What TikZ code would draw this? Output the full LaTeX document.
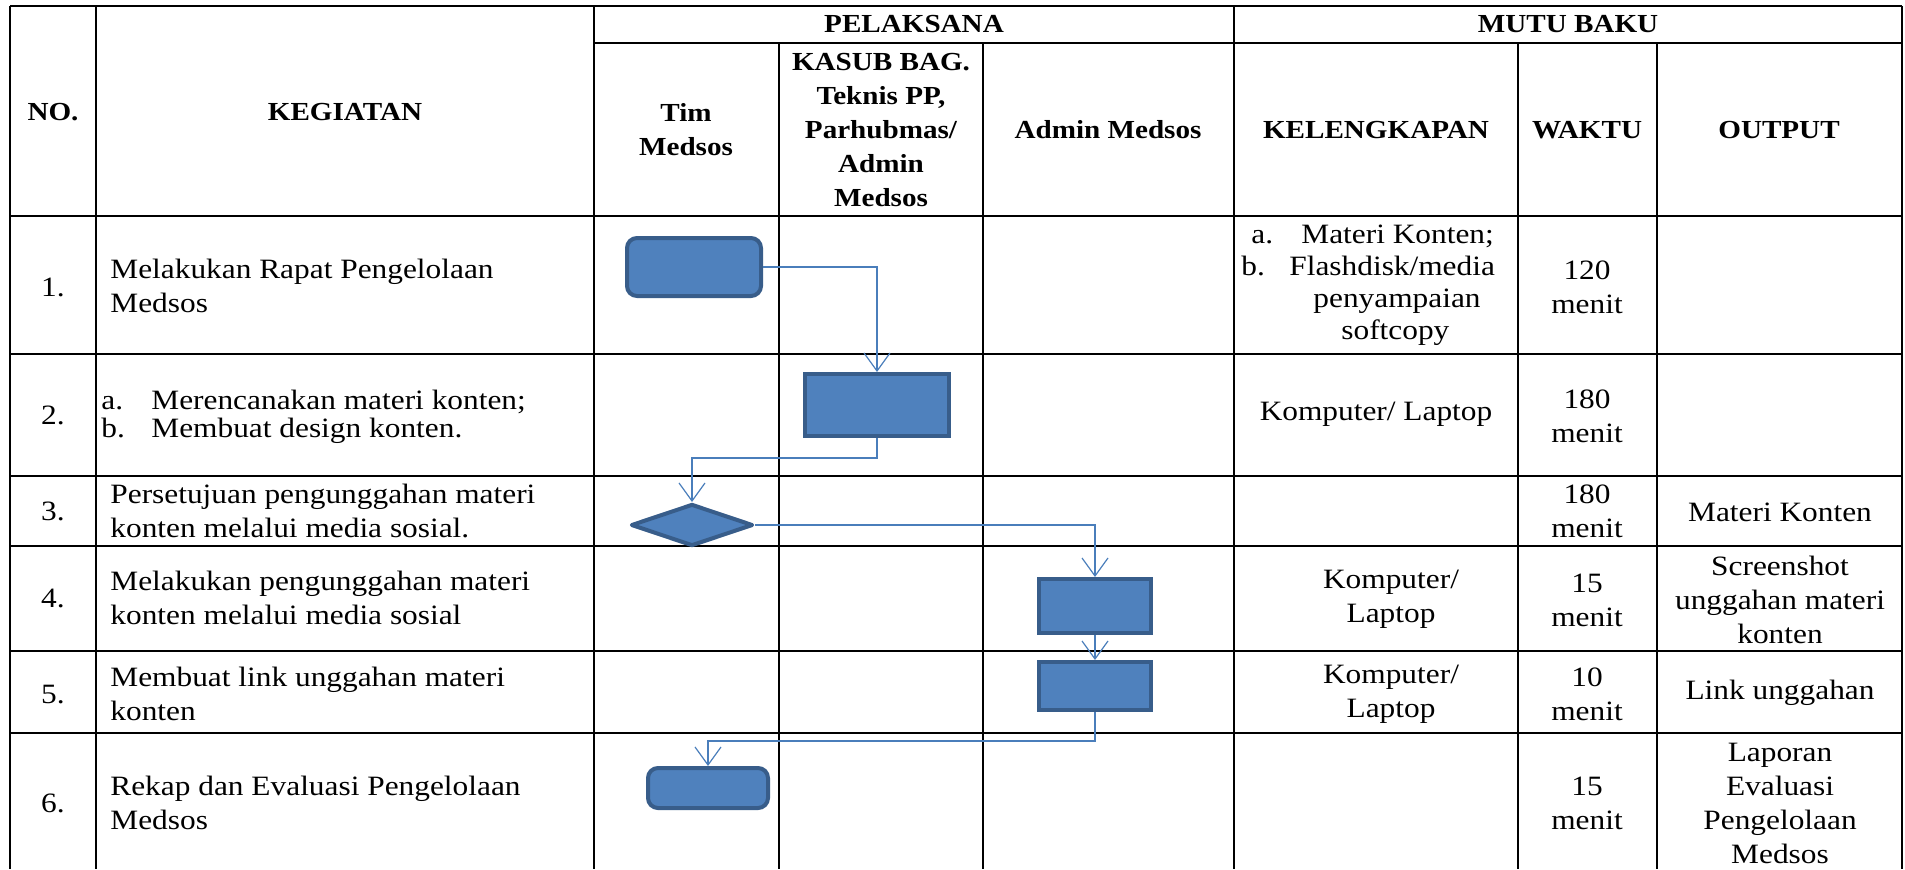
\documentclass[tikz,border=0pt]{standalone}
\usepackage{fontspec}
\setmainfont{Liberation Serif}[FakeStretch=1.12]
\definecolor{boxblue}{RGB}{79, 129, 189}
\definecolor{boxedge}{RGB}{56, 93, 138}
\definecolor{flowblue}{RGB}{74, 126, 187}
\usetikzlibrary{shapes, arrows.meta, positioning, calc}

\begin{document}
\begin{tikzpicture}[x=0.5pt, y=-0.5pt,
  grid/.style={line width=0.85pt, black},
  rowline/.style={line width=1pt, black},
  cell/.style={align=center, inner sep=0pt, font=\fontsize{14}{17}\selectfont},
  hdr/.style={cell, font=\fontsize{13}{17}\selectfont\bfseries},
  txt/.style={cell, anchor=west, align=left},
  actbox/.style={draw=boxedge, fill=boxblue, line width=2pt, inner sep=0pt},
  flow/.style={draw=flowblue, line width=0.6pt, -{Straight Barb[length=9pt, width=13pt]}}
]
  \useasboundingbox (0,0) rectangle (1905,869);

  % Table lines
  \draw[rowline] (10,6) -- (1902,6);
  \draw[rowline] (594,43) -- (1902,43);
  \draw[rowline] (10,216) -- (1902,216);
  \draw[rowline] (10,354) -- (1902,354);
  \draw[rowline] (10,476) -- (1902,476);
  \draw[rowline] (10,546) -- (1902,546);
  \draw[rowline] (10,651) -- (1902,651);
  \draw[rowline] (10,733) -- (1902,733);
  \draw[grid] (10,6) -- (10,869);
  \draw[grid] (96,6) -- (96,869);
  \draw[grid] (594,6) -- (594,869);
  \draw[grid] (1234,6) -- (1234,869);
  \draw[grid] (1902,6) -- (1902,869);
  \draw[grid] (779,43) -- (779,869);
  \draw[grid] (983,43) -- (983,869);
  \draw[grid] (1518,43) -- (1518,869);
  \draw[grid] (1657,43) -- (1657,869);

  % Header
  \node[hdr] (hno) at (53,112) {NO.};
  \node[hdr] (hkeg) at (345,112) {KEGIATAN};
  \node[hdr] (hpel) at (914,24) {PELAKSANA};
  \node[hdr] (hmutu) at (1568,24) {MUTU BAKU};
  \node[hdr] (htim) at (686,130) {Tim\\Medsos};
  \node[hdr] (hkasub) at (881,130) {KASUB BAG.\\Teknis PP,\\Parhubmas/\\Admin\\Medsos};
  \node[hdr] (hadmin) at (1108,130) {Admin Medsos};
  \node[hdr] (hkel) at (1376,130) {KELENGKAPAN};
  \node[hdr] (hwaktu) at (1587,130) {WAKTU};
  \node[hdr] (hout) at (1779,130) {OUTPUT};

  % Numbers
  \node[cell] (no1) at (53,287) {1.};
  \node[cell] (no2) at (53,415) {2.};
  \node[cell] (no3) at (53,511) {3.};
  \node[cell] (no4) at (53,598) {4.};
  \node[cell] (no5) at (53,695) {5.};
  \node[cell] (no6) at (53,803) {6.};

  % Kegiatan
  \node[txt] (keg1) at (110,286) {Melakukan Rapat Pengelolaan\\Medsos};
  \node[txt, font=\fontsize{14}{14}\selectfont] (keg2) at (101,417) {%
    \makebox[25pt][l]{a.}Merencanakan materi konten;\\
    \makebox[25pt][l]{b.}Membuat design konten.};
  \node[txt] (keg3) at (110,511) {Persetujuan pengunggahan materi\\konten melalui media sosial.};
  \node[txt] (keg4) at (110,598) {Melakukan pengunggahan materi\\konten melalui media sosial};
  \node[txt] (keg5) at (110,694) {Membuat link unggahan materi\\konten};
  \node[txt] (keg6) at (110,803) {Rekap dan Evaluasi Pengelolaan\\Medsos};

  % Kelengkapan
  \node[txt, font=\fontsize{14}{16}\selectfont] (kel1) at (1241,285) {%
    \hspace*{5pt}\makebox[25pt][l]{a.}Materi Konten;\\
    \makebox[24pt][l]{b.}Flashdisk/media\\
    \hspace*{36pt}penyampaian\\
    \hspace*{50pt}softcopy};
  \node[cell] (kel2) at (1376,414) {Komputer/ Laptop};
  \node[cell] (kel4) at (1391,599) {Komputer/\\Laptop};
  \node[cell] (kel5) at (1391,694) {Komputer/\\Laptop};

  % Waktu
  \node[cell] (wkt1) at (1587,287) {120\\menit};
  \node[cell] (wkt2) at (1587,416) {180\\menit};
  \node[cell] (wkt3) at (1587,511) {180\\menit};
  \node[cell] (wkt4) at (1587,600) {15\\menit};
  \node[cell] (wkt5) at (1587,694) {10\\menit};
  \node[cell] (wkt6) at (1587,803) {15\\menit};

  % Output
  \node[cell] (out3) at (1780,512) {Materi Konten};
  \node[cell] (out4) at (1780,600) {Screenshot\\unggahan materi\\konten};
  \node[cell] (out5) at (1780,693) {Link unggahan};
  \node[cell] (out6) at (1780,803) {Laporan\\Evaluasi\\Pengelolaan\\Medsos};

  % Flow shapes
  \node[actbox, rounded corners=5pt, minimum width=67pt, minimum height=29pt] (rapat) at (694,267) {};
  \node[actbox, minimum width=72pt, minimum height=31pt] (rencana) at (877,405) {};
  \node[actbox, diamond, line join=round, minimum width=61pt, minimum height=21pt] (setuju) at (692,525) {};
  \node[actbox, minimum width=56pt, minimum height=27pt] (unggah) at (1095,606) {};
  \node[actbox, minimum width=56pt, minimum height=24pt] (link) at (1095,686) {};
  \node[actbox, rounded corners=5pt, minimum width=60pt, minimum height=20pt] (rekap) at (708,788) {};

  % Connectors
  \draw[flow] (rapat.east) -| (rencana.north);
  \draw[flow] (rencana.south) -- ++(0,20) -| (setuju.north);
  \draw[flow] (setuju.east) -| (unggah.north);
  \draw[flow] (unggah) -- (link);
  \draw[flow] (link.south) -- ++(0,29) -| (rekap.north);
\end{tikzpicture}
\end{document}
